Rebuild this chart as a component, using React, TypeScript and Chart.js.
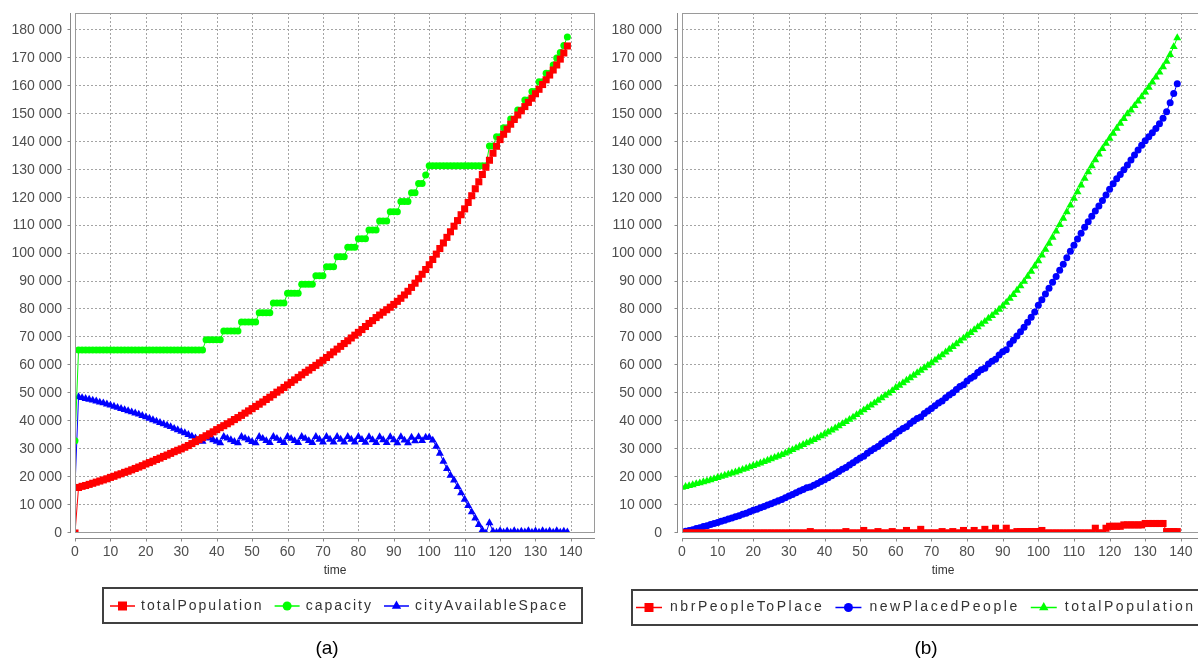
import React, { useEffect, useRef } from 'react';
import { Chart, registerables } from 'chart.js';

Chart.register(...registerables);

const FONT = '"Liberation Sans", Arial, sans-serif';

// time steps 0..139
const TIME = Array.from({ length: 140 }, (_, i) => i);

// tick values
const X_TICKS = [0, 10, 20, 30, 40, 50, 60, 70, 80, 90, 100, 110, 120, 130, 140];
const Y_TICKS = [
  0, 10000, 20000, 30000, 40000, 50000, 60000, 70000, 80000, 90000,
  100000, 110000, 120000, 130000, 140000, 150000, 160000, 170000, 180000,
];

// ---------- Panel (a) ----------
const A_TOTAL_POPULATION = [
  0, 16300, 16700, 17000, 17400, 17800, 18200, 18600, 19000, 19400,
  19900, 20300, 20800, 21200, 21700, 22100, 22600, 23100, 23600, 24100,
  24700, 25200, 25700, 26300, 26800, 27400, 27900, 28500, 29100, 29600,
  30100, 30700, 31300, 32000, 32700, 33400, 34100, 34800, 35500, 36200,
  37000, 37700, 38400, 39100, 39800, 40600, 41300, 42100, 42900, 43700,
  44500, 45300, 46100, 46900, 47800, 48600, 49500, 50400, 51200, 52100,
  53000, 53900, 54800, 55700, 56600, 57500, 58300, 59200, 60000, 60900,
  61800, 62800, 63800, 64800, 65800, 66800, 67800, 68800, 69800, 70800,
  71800, 72800, 73900, 75000, 76000, 77100, 78000, 79000, 79900, 80800,
  81800, 82900, 84000, 85200, 86500, 87900, 89400, 91000, 92600, 94300,
  96000, 97900, 99800, 101800, 103800, 105800, 107800, 109800, 111800, 113900,
  116000, 118300, 120700, 123200, 125700, 128300, 130900, 133400, 135900, 138400,
  140800, 142700, 144500, 146300, 148000, 149600, 151100, 152600, 154100, 155600,
  157200, 158800, 160500, 162200, 163900, 165700, 167500, 169600, 171800, 174300,
];

const A_CAPACITY = [
  33000, 65500, 65500, 65500, 65500, 65500, 65500, 65500, 65500, 65500,
  65500, 65500, 65500, 65500, 65500, 65500, 65500, 65500, 65500, 65500,
  65500, 65500, 65500, 65500, 65500, 65500, 65500, 65500, 65500, 65500,
  65500, 65500, 65500, 65500, 65500, 65500, 65500, 69200, 69200, 69200,
  69200, 69200, 72300, 72300, 72300, 72300, 72300, 75500, 75500, 75500,
  75500, 75500, 78800, 78800, 78800, 78800, 82300, 82300, 82300, 82300,
  85800, 85800, 85800, 85800, 89000, 89000, 89000, 89000, 92100, 92100,
  92100, 95300, 95300, 95300, 98900, 98900, 98900, 102300, 102300, 102300,
  105300, 105300, 105300, 108400, 108400, 108400, 111700, 111700, 111700, 115000,
  115000, 115000, 118600, 118600, 118600, 121800, 121800, 125100, 125100, 128100,
  131400, 131400, 131400, 131400, 131400, 131400, 131400, 131400, 131400, 131400,
  131400, 131400, 131400, 131400, 131400, 131400, 131400, 138500, 138500, 141800,
  141800, 145000, 145000, 148200, 148200, 151400, 151400, 155000, 155000, 158000,
  158000, 161500, 161500, 164500, 164500, 167500, 170000, 172000, 174500, 177500,
];

const A_CITY_AVAILABLE_SPACE = [
  16500, 48700, 48400, 48100, 47800, 47500, 47200, 46800, 46500, 46100,
  45700, 45300, 44900, 44500, 44100, 43700, 43300, 42900, 42500, 42000,
  41500, 41000, 40500, 40000, 39500, 39000, 38500, 38000, 37400, 36900,
  36300, 35800, 35200, 34600, 34000, 33400, 32800, 34500, 33900, 33300,
  32800, 32200, 34500, 33900, 33300, 32700, 32200, 34500, 33900, 33300,
  32700, 32200, 34500, 33800, 33000, 32300, 34500, 33800, 33000, 32300,
  34500, 33800, 33000, 32300, 34500, 33800, 33000, 32300, 34500, 33500,
  32500, 34500, 33500, 32500, 34500, 33500, 32500, 34500, 33500, 32500,
  34500, 33400, 32400, 34400, 33300, 32300, 34400, 33300, 32300, 34400,
  33300, 32200, 34400, 33200, 32200, 34200, 32900, 34400, 33000, 34200,
  34200, 33200, 31000, 28500, 25600, 23000, 20600, 18900, 16600, 14300,
  12000, 9800, 7500, 5300, 3000, 1000, 0, 3600, 600, 200,
  800, 200, 700, 200, 800, 200, 600, 300, 800, 200,
  700, 200, 800, 300, 700, 200, 800, 200, 600, 300,
];

// ---------- Panel (b) ----------
const B_NBR_PEOPLE_TO_PLACE = [
  0, 0, 0, 0, 0, 0, 0, 0, 0, 0,
  0, 0, 0, 0, 0, 0, 0, 0, 0, 0,
  0, 0, 0, 0, 0, 0, 0, 0, 0, 0,
  0, 0, 0, 0, 0, 0, 500, 0, 0, 0,
  0, 0, 0, 0, 0, 0, 500, 0, 0, 0,
  0, 900, 0, 0, 0, 500, 0, 0, 0, 500,
  0, 0, 0, 900, 0, 0, 0, 1300, 0, 0,
  0, 0, 0, 500, 0, 0, 500, 0, 0, 900,
  0, 0, 900, 0, 0, 1300, 0, 0, 1700, 0,
  0, 1700, 0, 0, 500, 500, 500, 500, 500, 500,
  500, 900, 0, 0, 0, 0, 0, 0, 0, 0,
  0, 0, 0, 0, 0, 0, 1700, 0, 0, 1700,
  2400, 2400, 2400, 2400, 2900, 2900, 2900, 2900, 2900, 2900,
  3400, 3400, 3400, 3400, 3400, 3400, 500, 500, 500, 500,
];

const B_NEW_PLACED_PEOPLE = [
  300, 600, 900, 1200, 1600, 1900, 2300, 2600, 3000, 3400,
  3800, 4200, 4600, 5000, 5400, 5800, 6200, 6700, 7100, 7600,
  8100, 8500, 9000, 9500, 10000, 10500, 11000, 11500, 12000, 12600,
  13200, 13800, 14400, 15000, 15600, 16200, 16500, 17100, 17700, 18400,
  19100, 19800, 20500, 21200, 22000, 22800, 23400, 24300, 25100, 26000,
  26800, 27500, 28500, 29400, 30200, 31000, 32000, 32900, 33700, 34500,
  35700, 36500, 37400, 38000, 39200, 40100, 41000, 41500, 42800, 43700,
  44600, 45500, 46500, 47200, 48400, 49400, 50200, 51400, 52400, 53100,
  54400, 55400, 56100, 57400, 58400, 59000, 60500, 61500, 62200, 63700,
  64900, 65600, 67600, 69000, 70500, 72000, 73600, 75400, 77200, 79100,
  81500, 83500, 85500, 87600, 89700, 91800, 94000, 96200, 98500, 100800,
  103000, 105200, 107300, 109400, 111400, 113400, 115200, 117000, 119000, 121000,
  123000, 125000, 126800, 128300, 130000, 131700, 133500, 135300, 137100, 138800,
  140400, 141800, 143200, 144800, 146500, 148400, 150800, 154000, 157300, 160800,
];

const B_TOTAL_POPULATION = [
  16300, 16600, 16900, 17200, 17600, 17900, 18300, 18600, 19000, 19400,
  19800, 20200, 20600, 21000, 21400, 21800, 22200, 22700, 23100, 23600,
  24100, 24500, 25000, 25500, 26000, 26500, 27000, 27500, 28000, 28600,
  29200, 29800, 30400, 31000, 31600, 32200, 32800, 33400, 34000, 34700,
  35400, 36100, 36800, 37500, 38300, 39100, 39800, 40600, 41400, 42300,
  43100, 44000, 44800, 45700, 46500, 47400, 48300, 49200, 50000, 50900,
  52000, 52800, 53700, 54600, 55500, 56400, 57300, 58200, 59100, 60000,
  60900, 61800, 62800, 63700, 64700, 65700, 66700, 67700, 68700, 69700,
  70700, 71700, 72700, 73700, 74700, 75700, 76800, 77800, 78900, 80000,
  81200, 82500, 83900, 85300, 86800, 88400, 90000, 91800, 93600, 95500,
  97400, 99400, 101500, 103600, 105800, 108000, 110300, 112600, 114900, 117300,
  119700, 122100, 124500, 126900, 129200, 131400, 133500, 135600, 137500, 139400,
  141200, 143000, 144800, 146600, 148300, 150000, 151300, 152900, 154500, 156100,
  157800, 159500, 161300, 163100, 164900, 166800, 168800, 171200, 174000, 177200,
];

const RED = '#ff0000';
const GREEN = '#00ff00';
const BLUE = '#0000ff';

type MarkerStyle = 'rect' | 'circle' | 'triangle';
interface SeriesSpec { label: string; color: string; style: MarkerStyle; values: number[] }

const PANEL_A: SeriesSpec[] = [
  { label: 'totalPopulation', color: RED, style: 'rect', values: A_TOTAL_POPULATION },
  { label: 'capacity', color: GREEN, style: 'circle', values: A_CAPACITY },
  { label: 'cityAvailableSpace', color: BLUE, style: 'triangle', values: A_CITY_AVAILABLE_SPACE },
];
const PANEL_B: SeriesSpec[] = [
  { label: 'nbrPeopleToPlace', color: RED, style: 'rect', values: B_NBR_PEOPLE_TO_PLACE },
  { label: 'newPlacedPeople', color: BLUE, style: 'circle', values: B_NEW_PLACED_PEOPLE },
  { label: 'totalPopulation', color: GREEN, style: 'triangle', values: B_TOTAL_POPULATION },
];

function fmt(v: number): string {
  return Math.round(v).toString().replace(/\B(?=(\d{3})+(?!\d))/g, ' ');
}

function drawMarker(ctx: CanvasRenderingContext2D, style: MarkerStyle, x: number, y: number, color: string, s: number) {
  ctx.fillStyle = color;
  ctx.beginPath();
  if (style === 'rect') {
    ctx.rect(x - s / 2, y - s / 2, s, s);
  } else if (style === 'circle') {
    ctx.arc(x, y, s / 2, 0, Math.PI * 2);
  } else {
    const r = s * 0.6;
    ctx.moveTo(x, y - r);
    ctx.lineTo(x + r * 0.866, y + r / 2);
    ctx.lineTo(x - r * 0.866, y + r / 2);
    ctx.closePath();
  }
  ctx.fill();
}

interface LegendSpec {
  box: [number, number, number, number];
  startX: number;
  y: number;
  lineLen: number;
  gap: number;
  itemGap: number;
  spacing: number;
}

function makeDecor(series: SeriesSpec[], legend: LegendSpec) {
  return {
    id: 'decor',
    beforeDatasetsDraw(chart: any) {
      const { ctx, chartArea: a } = chart;
      const xs = chart.scales.x;
      const ys = chart.scales.y;
      ctx.save();
      ctx.strokeStyle = '#a4a4a4';
      ctx.lineWidth = 1;
      ctx.setLineDash([2, 2]);
      ctx.beginPath();
      for (const t of xs.ticks) {
        const px = Math.round(xs.getPixelForValue(t.value)) + 0.5;
        ctx.moveTo(px, a.top);
        ctx.lineTo(px, a.bottom);
      }
      for (const t of ys.ticks) {
        const py = Math.round(ys.getPixelForValue(t.value)) - 0.5;
        ctx.moveTo(a.left, py);
        ctx.lineTo(a.right, py);
      }
      ctx.stroke();
      ctx.restore();
    },
    afterDraw(chart: any) {
      const { ctx, chartArea: a } = chart;
      const xs = chart.scales.x;
      const ys = chart.scales.y;
      ctx.save();
      // plot outline
      ctx.strokeStyle = '#9a9a9a';
      ctx.lineWidth = 1;
      ctx.strokeRect(Math.round(a.left) + 0.5, Math.round(a.top) + 0.5, Math.round(a.right - a.left) - 1, Math.round(a.bottom - a.top) - 1);
      // axis lines offset from the data area
      ctx.strokeStyle = '#8a8a8a';
      const axX = Math.round(a.left) - 5 + 0.5;
      const axY = Math.round(a.bottom) + 5 + 0.5;
      ctx.beginPath();
      ctx.moveTo(axX, a.top);
      ctx.lineTo(axX, a.bottom);
      ctx.moveTo(a.left, axY);
      ctx.lineTo(a.right, axY);
      for (const t of ys.ticks) {
        const py = Math.round(ys.getPixelForValue(t.value)) - 0.5;
        ctx.moveTo(axX, py);
        ctx.lineTo(axX - 3, py);
      }
      for (const t of xs.ticks) {
        const px = Math.round(xs.getPixelForValue(t.value)) + 0.5;
        ctx.moveTo(px, axY);
        ctx.lineTo(px, axY + 3);
      }
      ctx.stroke();

      // legend
      const [x0, y0, x1, y1] = legend.box;
      ctx.strokeStyle = '#404040';
      ctx.lineWidth = 2;
      ctx.strokeRect(x0, y0, x1 - x0, y1 - y0);
      ctx.font = `14px ${FONT}`;
      (ctx as any).letterSpacing = `${legend.spacing}px`;
      ctx.textBaseline = 'middle';
      ctx.textAlign = 'left';
      let x = legend.startX;
      for (const s of series) {
        ctx.strokeStyle = s.color;
        ctx.lineWidth = 1.5;
        ctx.beginPath();
        ctx.moveTo(x, legend.y);
        ctx.lineTo(x + legend.lineLen, legend.y);
        ctx.stroke();
        drawMarker(ctx, s.style, x + legend.lineLen / 2, legend.y, s.color, 9);
        x += legend.lineLen + legend.gap;
        ctx.fillStyle = '#333333';
        ctx.fillText(s.label, x, legend.y);
        x += ctx.measureText(s.label).width + legend.itemGap;
      }
      ctx.restore();
    },
  };
}

const POINT_RADIUS: Record<MarkerStyle, number> = { rect: 5, circle: 3.5, triangle: 4.6 };

function buildConfig(series: SeriesSpec[], yAxisWidth: number, padRight: number, xMax: number, legend: LegendSpec): any {
  return {
    type: 'line',
    data: {
      datasets: series.map((s) => ({
        label: s.label,
        data: TIME.map((t, i) => ({ x: t, y: s.values[i] })),
        borderColor: s.color,
        backgroundColor: s.color,
        borderWidth: 1,
        pointStyle: s.style,
        pointRadius: POINT_RADIUS[s.style],
        pointBackgroundColor: s.color,
        pointBorderColor: s.color,
        pointBorderWidth: 0,
        tension: 0,
        fill: false,
        clip: 0,
      })),
    },
    options: {
      animation: false,
      responsive: false,
      devicePixelRatio: 1,
      events: [],
      layout: { padding: { top: 13, left: 0, right: padRight, bottom: 79 } },
      plugins: { legend: { display: false }, tooltip: { enabled: false }, title: { display: false } },
      scales: {
        x: {
          type: 'linear',
          min: 0,
          max: xMax,
          grid: { display: false, drawTicks: false },
          border: { display: false },
          afterBuildTicks: (s: any) => { s.ticks = X_TICKS.map((v) => ({ value: v })); },
          ticks: {
            maxRotation: 0,
            autoSkip: false,
            padding: 10.5,
            color: '#4e4e4e',
            font: { family: FONT, size: 14 },
            callback: (v: number) => fmt(v),
          },
          title: {
            display: true,
            text: 'time',
            color: '#333333',
            font: { family: FONT, size: 12 },
            padding: { top: 0, bottom: 2 },
          },
          afterFit: (s: any) => { s.height = 47; },
        },
        y: {
          type: 'linear',
          min: 0,
          max: 186100,
          grid: { display: false, drawTicks: true, tickLength: yAxisWidth - 66 },
          border: { display: false },
          afterBuildTicks: (s: any) => { s.ticks = Y_TICKS.map((v) => ({ value: v })); },
          ticks: {
            padding: 4,
            color: '#4e4e4e',
            font: { family: FONT, size: 14 },
            callback: (v: number) => fmt(v),
          },
          afterFit: (s: any) => { s.width = yAxisWidth; },
        },
      },
    },
    plugins: [makeDecor(series, legend)],
  };
}

function ChartCanvas({ left, width, config }: { left: number; width: number; config: () => any }) {
  const ref = useRef<HTMLCanvasElement | null>(null);
  useEffect(() => {
    if (!ref.current) return;
    const chart = new Chart(ref.current, config());
    return () => chart.destroy();
  }, []);
  return (
    <canvas
      ref={ref}
      width={width}
      height={659}
      style={{ position: 'absolute', left, top: 0, width, height: 659 }}
    />
  );
}

const captionStyle = (cx: number): React.CSSProperties => ({
  position: 'absolute',
  left: cx - 30,
  width: 60,
  top: 637,
  lineHeight: '22px',
  textAlign: 'center',
  fontFamily: FONT,
  fontSize: 19,
  color: '#000',
});

export default function App() {
  return (
    <div
      style={{
        position: 'absolute',
        left: 0,
        top: 0,
        width: 1198,
        height: 659,
        overflow: 'hidden',
        background: '#ffffff',
      }}
    >
      <ChartCanvas
        left={0}
        width={600}
        config={() =>
          buildConfig(PANEL_A, 75, 4, 146.8, {
            box: [103, 588, 582, 623],
            startX: 110,
            y: 606,
            lineLen: 25,
            gap: 6,
            itemGap: 11,
            spacing: 2.0,
          })
        }
      />
      <ChartCanvas
        left={600}
        width={612}
        config={() =>
          buildConfig(PANEL_B, 82, 8, 146.5, {
            box: [32, 590, 640, 625],
            startX: 36,
            y: 607.5,
            lineLen: 26,
            gap: 8,
            itemGap: 11,
            spacing: 2.55,
          })
        }
      />
      <div style={captionStyle(327)}>(a)</div>
      <div style={captionStyle(926)}>(b)</div>
    </div>
  );
}
